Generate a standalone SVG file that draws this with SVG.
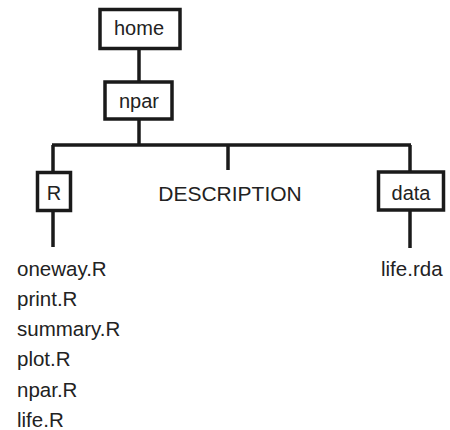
<svg xmlns="http://www.w3.org/2000/svg" width="450" height="430" viewBox="0 0 450 430">
<style>
.box{fill:#fff;stroke:#1a1a1a;stroke-width:3.5}
.ln{stroke:#1a1a1a;stroke-width:3.5;fill:none;stroke-linecap:butt}
text{font-family:"Liberation Sans",Arial,sans-serif;font-size:20px;fill:#222}
.c{text-anchor:middle}
.f{font-size:20.5px}
</style>
<rect width="450" height="430" fill="#fff"/>
<g id="connectors">
<line class="ln" x1="139" y1="50" x2="139" y2="82"/>
<line class="ln" x1="139" y1="119" x2="139" y2="146"/>
<line class="ln" x1="52" y1="145" x2="411" y2="145"/>
<line class="ln" x1="53" y1="145" x2="53" y2="173"/>
<line class="ln" x1="228" y1="145" x2="228" y2="170"/>
<line class="ln" x1="410" y1="145" x2="410" y2="172"/>
<line class="ln" x1="53" y1="210" x2="53" y2="247"/>
<line class="ln" x1="410" y1="210" x2="410" y2="248"/>
</g>
<g id="home">
<rect class="box" x="100" y="9.5" width="80" height="39"/>
<text class="c" x="139" y="35">home</text>
</g>
<g id="npar">
<rect class="box" x="105" y="82" width="67" height="37"/>
<text class="c" x="139" y="108">npar</text>
</g>
<g id="R">
<rect class="box" x="37.5" y="172.5" width="33" height="38"/>
<text class="c" x="54" y="200">R</text>
</g>
<g id="description">
<text class="c" x="230" y="200.5" style="font-size:21px">DESCRIPTION</text>
</g>
<g id="data">
<rect class="box" x="378.5" y="172" width="65" height="38"/>
<text class="c" x="411" y="200">data</text>
</g>
<g id="r-files">
<text class="f" x="17" y="275.5">oneway.R</text>
<text class="f" x="17" y="305.8">print.R</text>
<text class="f" x="17" y="336.1">summary.R</text>
<text class="f" x="17" y="366.4">plot.R</text>
<text class="f" x="17" y="396.7">npar.R</text>
<text class="f" x="17" y="427">life.R</text>
</g>
<g id="data-files">
<text class="f" x="381" y="275.5">life.rda</text>
</g>
</svg>
